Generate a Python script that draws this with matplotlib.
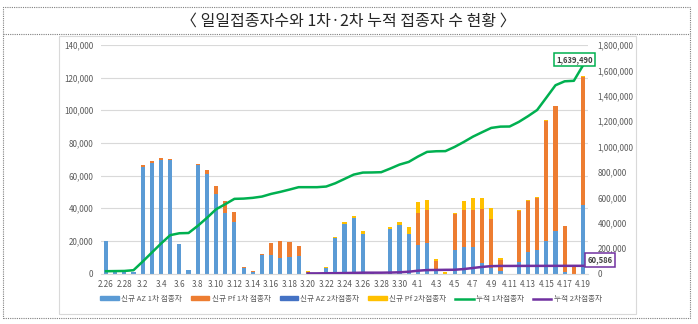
import numpy as np
import matplotlib
matplotlib.use('Agg')
import matplotlib.pyplot as plt
from matplotlib.patches import Rectangle, Patch
from matplotlib.lines import Line2D

plt.rcParams['font.family'] = ['Noto Sans CJK KR', 'DejaVu Sans']

# dates, 2.26 ~ 4.19 (53 days)
dates = ['2.26', '2.27', '2.28',
         '3.1', '3.2', '3.3', '3.4', '3.5', '3.6', '3.7', '3.8', '3.9', '3.10',
         '3.11', '3.12', '3.13', '3.14', '3.15', '3.16', '3.17', '3.18', '3.19', '3.20',
         '3.21', '3.22', '3.23', '3.24', '3.25', '3.26', '3.27', '3.28', '3.29', '3.30', '3.31',
         '4.1', '4.2', '4.3', '4.4', '4.5', '4.6', '4.7', '4.8', '4.9', '4.10',
         '4.11', '4.12', '4.13', '4.14', '4.15', '4.16', '4.17', '4.18', '4.19']

az_1st = [20000, 800, 800,
          900, 65500, 68000, 69500, 69300, 18000, 2200, 66300, 60800, 48800,
          37100, 31600, 3100, 1000, 11600, 11600, 9800, 10200, 10600, 500,
          0, 3300, 21600, 30400, 34000, 24500, 1200, 0, 27500, 29800, 23900,
          17600, 18800, 2000, 0, 14100, 16000, 16000, 6300, 3200, 1500,
          0, 7200, 12900, 14600, 20000, 26300, 1100, 0, 42200]

pf_1st = [0, 200, 300,
          200, 800, 1100, 1000, 1100, 0, 0, 800, 2600, 5100,
          7100, 6300, 800, 400, 600, 7200, 10000, 9000, 6100, 300,
          0, 0, 0, 0, 0, 0, 0, 0, 0, 0, 0,
          19300, 20100, 5900, 0, 22300, 22600, 23000, 33000, 30200, 6600,
          0, 31300, 31700, 31800, 73500, 76200, 28000, 3800, 78500]

az_2nd = [0] * 53

pf_2nd = [0, 0, 0,
          0, 0, 0, 0, 0, 0, 0, 0, 0, 0,
          0, 0, 0, 0, 0, 0, 0, 0, 0, 500,
          0, 500, 500, 1000, 1500, 1600, 0, 0, 900, 1800, 4500,
          7200, 6400, 700, 1000, 600, 5600, 7200, 6800, 7000, 1200,
          0, 300, 300, 300, 300, 300, 300, 0, 300]

cum_1st = [18000, 19000, 20000,
           26000, 94000, 165000, 236000, 302000, 317000, 319000, 375000, 438000, 506000,
           546000, 588000, 590000, 596000, 606000, 627000, 643000, 661000, 680000, 680000,
           680000, 685000, 711000, 745000, 779000, 795000, 796000, 798000, 827000, 858000, 879000,
           921000, 958000, 963000, 964000, 997000, 1036000, 1078000, 1113000, 1147000, 1157000,
           1158000, 1194000, 1239000, 1288000, 1385000, 1483000, 1514000, 1518000, 1639490]

cum_2nd = [np.nan] * 22 + [
           1000,
           1000, 2000, 2500, 3500, 5000, 6500, 6500, 6500, 7500, 9500, 14000,
           22000, 27000, 28000, 29000, 29500, 35000, 43500, 52000, 58000, 59500,
           59500, 59800, 60000, 60100, 60200, 60350, 60400, 60450, 60586]

labels = ['신규 AZ 1차 접종자', '신규 Pf 1차 접종자', '신규 AZ 2차접종자',
          '신규 Pf 2차접종자', '누적 1차접종자', '누적 2차접종자']

C_AZ1 = '#5B9BD5'
C_PF1 = '#ED7D31'
C_AZ2 = '#4472C4'
C_PF2 = '#FFC000'
C_CUM1 = '#00B050'
C_CUM2 = '#7030A0'
TXT = '#595959'

W, H = 698, 324


def fx(x):
    return x / W


def fy(y):
    return 1 - y / H


fig = plt.figure(figsize=(W / 100, H / 100), dpi=100)

# outer dotted frame + title separator
fig.patches.append(Rectangle((fx(3), fy(318)), fx(690) - fx(3), fy(7) - fy(318),
                             transform=fig.transFigure, fill=False,
                             edgecolor='#808080', lw=0.8, ls=(0, (1, 1))))
fig.add_artist(Line2D([fx(3), fx(690)], [fy(34), fy(34)], transform=fig.transFigure,
                      color='#808080', lw=0.8, ls=(0, (1, 1))))
# chart area border
fig.patches.append(Rectangle((fx(59), fy(314)), fx(636) - fx(59), fy(36) - fy(314),
                             transform=fig.transFigure, fill=False,
                             edgecolor='#D9D9D9', lw=0.8))

fig.text(fx(348), fy(21), '〈 일일접종자수와 1차·2차 누적 접종자 수 현황 〉',
         ha='center', va='center', fontsize=11.5, color='#262626')

left, right, top, bottom = 101.4, 587.6, 45.0, 273.5
ax = fig.add_axes([fx(left), fy(bottom), (right - left) / W, (bottom - top) / H])
x = np.arange(len(dates))
bw = 0.45

b0 = np.zeros(len(dates))
for vals, col in [(az_1st, C_AZ1), (pf_1st, C_PF1), (az_2nd, C_AZ2), (pf_2nd, C_PF2)]:
    ax.bar(x, vals, bw, bottom=b0, color=col, linewidth=0)
    b0 = b0 + np.array(vals)

ax.set_xlim(-0.5, len(dates) - 0.5)
ax.set_ylim(0, 140000)
ax.set_yticks(np.arange(0, 140001, 20000))
ax.set_yticklabels([f'{v:,}' for v in range(0, 140001, 20000)])
ax.set_xticks(x[::2])
ax.set_xticklabels(dates[::2])
ax.yaxis.grid(True, color='#D9D9D9', lw=0.8)
ax.set_axisbelow(True)
for s in ax.spines.values():
    s.set_visible(False)
ax.spines['bottom'].set_visible(True)
ax.spines['bottom'].set_color('#D9D9D9')
ax.tick_params(axis='both', length=0, labelsize=5.8, labelcolor=TXT)
ax.tick_params(axis='y', pad=6)
ax.tick_params(axis='x', pad=5)

ax2 = ax.twinx()
ax2.plot(x, cum_1st, color=C_CUM1, lw=1.8)
ax2.plot(x, cum_2nd, color=C_CUM2, lw=1.8)
ax2.set_ylim(0, 1800000)
ax2.set_yticks(np.arange(0, 1800001, 200000))
ax2.set_yticklabels([f'{v:,}' for v in range(0, 1800001, 200000)])
for s in ax2.spines.values():
    s.set_visible(False)
ax2.tick_params(axis='y', length=0, labelsize=5.8, labelcolor=TXT, pad=7)

# data labels for last points
fig.text(fx(574.5), fy(59.5), f'{cum_1st[-1]:,}', ha='center', va='center',
         fontsize=5.5, fontweight='bold', color='#404040',
         bbox=dict(boxstyle='square,pad=0.3', fc='white', ec=C_CUM1, lw=1.1))
fig.text(fx(600), fy(260), f'{cum_2nd[-1]:,}', ha='center', va='center',
         fontsize=5.5, fontweight='bold', color='#404040',
         bbox=dict(boxstyle='square,pad=0.3', fc='white', ec=C_CUM2, lw=1.1))

handles = [Patch(color=C_AZ1), Patch(color=C_PF1), Patch(color=C_AZ2), Patch(color=C_PF2),
           Line2D([], [], color=C_CUM1, lw=1.8), Line2D([], [], color=C_CUM2, lw=1.8)]
fig.legend(handles, labels, loc='center', bbox_to_anchor=(fx(351), fy(299)), ncol=6,
           frameon=False, fontsize=5.5, labelcolor=TXT, handlelength=2.4,
           handleheight=0.5, handletextpad=0.3, columnspacing=1.2)

fig.savefig('out.png', dpi=100)
